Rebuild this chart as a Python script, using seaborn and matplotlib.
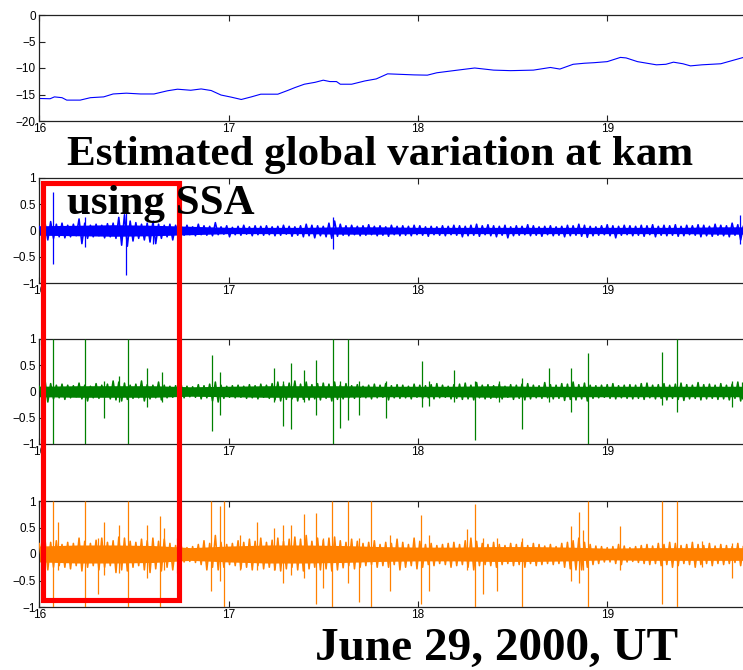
import numpy as np
import pandas as pd
import matplotlib
matplotlib.use("Agg")
import matplotlib.pyplot as plt
from matplotlib.patches import Rectangle
import seaborn as sns

# ---------------- data ----------------
# top panel: estimated global variation (hours UT, value)
top_t = [16.00, 16.057, 16.08, 16.12, 16.145, 16.216, 16.27, 16.34, 16.39, 16.46,
         16.535, 16.606, 16.677, 16.73, 16.80, 16.855, 16.908, 16.96, 17.014, 17.067,
         17.12, 17.17, 17.26, 17.315, 17.35, 17.40, 17.457, 17.50, 17.535, 17.57,
         17.59, 17.65, 17.72, 17.78, 17.84, 17.91, 17.98, 18.05, 18.10, 18.21,
         18.30, 18.40, 18.49, 18.61, 18.70, 18.75, 18.82, 18.88, 18.93, 19.00,
         19.07, 19.10, 19.16, 19.21, 19.26, 19.31, 19.35, 19.40, 19.44, 19.50,
         19.55, 19.60, 19.66, 19.72]
top_v = [-15.75, -15.8, -15.45, -15.6, -16.06, -16.06, -15.6, -15.45, -14.9, -14.75,
         -14.9, -14.9, -14.3, -14.0, -14.2, -13.95, -14.25, -15.1, -15.5, -15.94,
         -15.45, -14.94, -14.94, -14.2, -13.7, -13.06, -12.7, -12.3, -12.56, -12.56,
         -13.06, -13.06, -12.44, -12.06, -11.1, -11.2, -11.3, -11.35, -10.9, -10.4,
         -10.0, -10.4, -10.5, -10.4, -9.9, -10.2, -9.3, -9.1, -9.0, -8.8,
         -8.0, -8.1, -8.8, -9.1, -9.4, -9.3, -8.9, -9.2, -9.6, -9.4,
         -9.3, -9.2, -8.6, -8.0]

# residual panels: noise envelope (hundredths), one value every 0.03 h from 16.00 to 19.72
band_start, band_end = 16.00, 19.72

blue_hi = [8, 15, 17, 12, 14, 10, 12, 22, 14, 10, 12, 10, 13, 14, 25, 30, 18, 15, 12, 14, 16, 12, 10, 12, 10,
           8, 10, 7, 12, 9, 8, 15, 7, 9, 6, 8, 10, 7, 9, 8, 9, 7, 8, 10, 8, 7, 9, 12, 10, 9,
           8, 14, 18, 12, 9, 10, 8, 9, 11, 8, 9, 7, 10, 8, 9, 8, 10, 9, 7, 8, 7, 9, 8, 10, 9,
           8, 10, 12, 9, 11, 9, 8, 10, 7, 9, 8, 11, 9, 7, 8, 9, 7, 8, 10, 9, 12, 10, 8, 7, 9,
           11, 9, 8, 10, 9, 8, 10, 9, 11, 8, 10, 9, 11, 8, 10, 9, 11, 10, 8, 12, 10, 9, 14, 11, 9]
blue_lo = [-10, -18, -15, -12, -14, -12, -10, -25, -15, -12, -10, -14, -12, -15, -28, -30, -20, -15, -18, -22, -25, -15, -12, -18, -10,
           -9, -8, -10, -8, -9, -10, -8, -7, -12, -8, -9, -7, -10, -8, -9, -8, -10, -9, -7, -11, -9, -12, -10, -14, -10,
           -12, -15, -11, -9, -10, -8, -10, -9, -8, -10, -9, -11, -8, -10, -9, -10, -8, -9, -11, -8, -9, -10, -8, -9, -12,
           -10, -9, -11, -8, -10, -12, -9, -14, -10, -9, -8, -10, -9, -11, -8, -10, -9, -12, -10, -9, -11, -13, -10, -9, -8,
           -10, -14, -9, -8, -10, -9, -11, -8, -12, -9, -10, -9, -11, -10, -8, -9, -12, -10, -11, -9, -10, -12, -9, -18, -10]

green_hi = [10, 22, 15, 12, 14, 12, 11, 16, 12, 10, 15, 12, 14, 20, 18, 16, 12, 14, 20, 13, 12, 18, 12, 10, 11,
            12, 10, 9, 13, 11, 14, 18, 12, 10, 11, 12, 10, 13, 11, 14, 12, 15, 18, 13, 16, 20, 14, 18, 13, 15,
            16, 14, 18, 12, 15, 11, 13, 10, 12, 14, 12, 15, 11, 13, 12, 10, 14, 12, 11, 13, 15, 12, 10, 13, 14,
            16, 12, 17, 12, 13, 11, 14, 10, 13, 12, 14, 15, 12, 11, 17, 13, 12, 15, 14, 18, 13, 16, 12, 11, 12,
            13, 15, 11, 12, 13, 12, 15, 16, 12, 13, 15, 12, 14, 16, 13, 12, 17, 13, 14, 12, 15, 12, 14, 18, 12]
green_lo = [-10, -20, -14, -12, -15, -12, -10, -14, -18, -12, -13, -11, -14, -16, -18, -15, -13, -12, -18, -14, -12, -16, -12, -11, -10,
            -12, -10, -11, -14, -12, -18, -20, -13, -11, -12, -11, -13, -12, -14, -11, -13, -16, -18, -15, -14, -18, -15, -16, -14, -16,
            -13, -18, -15, -14, -12, -13, -11, -12, -14, -12, -11, -16, -12, -13, -12, -14, -11, -13, -12, -14, -12, -11, -14, -13, -15,
            -14, -16, -12, -14, -13, -12, -14, -11, -15, -13, -16, -14, -12, -13, -12, -14, -13, -17, -15, -16, -14, -18, -13, -12, -11,
            -13, -14, -12, -13, -14, -13, -15, -12, -14, -13, -16, -13, -15, -17, -14, -13, -16, -14, -13, -15, -14, -16, -13, -18, -14]

orange_hi = [20, 28, 22, 25, 18, 22, 20, 30, 24, 20, 26, 30, 22, 25, 32, 30, 24, 22, 28, 25, 30, 24, 28, 20, 16,
             15, 12, 14, 18, 25, 20, 35, 22, 18, 20, 25, 22, 28, 24, 30, 22, 26, 30, 24, 28, 32, 28, 35, 24, 30,
             26, 30, 32, 25, 22, 28, 24, 20, 22, 25, 18, 22, 20, 28, 22, 18, 30, 24, 18, 20, 16, 18, 20, 22, 18,
             25, 30, 24, 20, 18, 22, 18, 16, 20, 18, 22, 16, 20, 18, 15, 18, 14, 20, 22, 25, 30, 22, 18, 15, 14,
             12, 14, 18, 15, 12, 14, 16, 18, 15, 20, 18, 22, 20, 16, 18, 22, 18, 16, 20, 15, 18, 16, 14, 20, 15]
orange_lo = [-20, -30, -25, -22, -25, -28, -22, -32, -25, -22, -30, -25, -22, -35, -30, -32, -25, -22, -30, -35, -28, -32, -25, -30, -20,
             -15, -14, -16, -20, -30, -25, -30, -25, -20, -22, -28, -25, -30, -22, -28, -25, -30, -32, -28, -25, -30, -32, -28, -25, -30,
             -28, -32, -30, -26, -22, -28, -25, -22, -20, -25, -22, -25, -20, -30, -25, -22, -28, -25, -20, -22, -18, -20, -25, -22, -20,
             -25, -30, -22, -20, -22, -25, -20, -18, -22, -20, -25, -18, -22, -20, -18, -20, -18, -25, -28, -30, -30, -25, -20, -18, -15,
             -15, -18, -20, -15, -14, -16, -18, -20, -18, -22, -20, -25, -22, -18, -20, -25, -20, -18, -22, -18, -20, -18, -16, -22, -18]

# solid core of each noise band (hundredths), one value every 0.2 h from 16.0 to 19.8
core_start, core_end = 16.0, 19.8
blue_core = [9, 10, 11, 10, 8, 6, 6, 6, 7, 7, 6, 6, 6, 6, 6, 6, 6, 6, 7, 7]
green_core = [10, 11, 11, 11, 9, 10, 11, 11, 11, 10, 10, 10, 11, 10, 10, 10, 10, 10, 10, 10]
orange_core = [15, 17, 17, 16, 12, 15, 17, 17, 16, 14, 13, 13, 14, 14, 13, 11, 12, 12, 12, 12]

# isolated spikes: time, top, bottom
blue_spike_t = [16.07, 16.24, 16.46, 16.60, 17.55, 19.70]
blue_spike_hi = [0.73, 0.25, 0.35, 0.2, 0.25, 0.3]
blue_spike_lo = [-0.63, -0.32, -0.85, -0.25, -0.36, -0.25]

green_spike_t = [16.07, 16.24, 16.34, 16.42, 16.47, 16.57, 16.65, 16.91, 16.955, 17.24,
                 17.29, 17.33, 17.40, 17.46, 17.55, 17.59, 17.63, 17.69, 17.83, 18.02,
                 18.06, 18.19, 18.30, 18.43, 18.55, 18.69, 18.81, 18.90, 19.29, 19.37,
                 19.66, 19.71]
green_spike_hi = [1.0, 1.0, 0.2, 0.3, 1.0, 0.45, 0.38, 0.7, 0.38, 0.45,
                  0.2, 0.55, 0.4, 0.6, 1.0, 0.2, 1.0, 0.2, 0.2, 0.58,
                  0.2, 0.4, 0.2, 0.2, 0.25, 0.44, 0.45, 0.74, 0.75, 1.0,
                  0.2, 0.18]
green_spike_lo = [-1.0, -1.0, -0.5, -0.2, -1.0, -0.3, -0.2, -0.75, -0.45, -0.2,
                  -0.65, -0.72, -0.2, -0.45, -1.0, -0.7, -0.55, -0.45, -0.5, -0.3,
                  -0.28, -0.2, -0.92, -0.2, -0.72, -0.2, -0.4, -1.0, -0.25, -0.4,
                  -0.3, -0.15]

orange_spike_t = [16.07, 16.10, 16.24, 16.31, 16.34, 16.42, 16.47, 16.57, 16.64, 16.66,
                  16.725, 16.905, 16.955, 16.975, 17.06, 17.15, 17.24, 17.29, 17.33, 17.40,
                  17.46, 17.50, 17.545, 17.63, 17.69, 17.75, 17.85, 18.015, 18.06, 18.26,
                  18.30, 18.345, 18.42, 18.55, 18.81, 18.85, 18.87, 18.90, 19.07, 19.29,
                  19.37, 19.50, 19.66]
orange_spike_hi = [1.0, 0.6, 1.0, 0.3, 0.6, 0.55, 1.0, 0.55, 0.72, 0.5,
                   0.3, 1.0, 0.9, 1.0, 0.35, 0.6, 0.5, 0.55, 0.55, 0.75,
                   0.78, 0.3, 1.0, 1.0, 0.3, 1.0, 0.35, 0.73, 0.35, 0.48,
                   0.95, 0.3, 0.3, 0.3, 0.52, 0.8, 0.45, 1.0, 0.52, 1.0,
                   1.0, 0.25, 0.2]
orange_spike_lo = [-1.0, -0.3, -1.0, -0.75, -0.4, -0.35, -1.0, -0.45, -1.0, -0.3,
                   -0.35, -0.7, -0.5, -1.0, -0.3, -0.3, -0.3, -0.55, -0.4, -0.45,
                   -0.95, -0.65, -1.0, -0.55, -0.9, -1.0, -0.7, -0.95, -0.7, -0.3,
                   -1.0, -0.75, -0.7, -1.0, -0.5, -0.55, -0.3, -1.0, -0.3, -0.95,
                   -1.0, -0.25, -0.45]

x_ticks = [16, 17, 18, 19]
top_yticks = [-20, -15, -10, -5, 0]
res_yticks = [-1, -0.5, 0, 0.5, 1]
res_yticklabels = ["\u22121", "\u22120.5", "0", "0.5", "1"]

title_line1 = "Estimated global variation at kam"
title_line2 = "using SSA"
date_label = "June 29, 2000, UT"

# ---------------- style ----------------
sns.set_style("ticks")
plt.rcParams["font.family"] = ["Liberation Sans", "DejaVu Sans"]
plt.rcParams["xtick.direction"] = "in"
plt.rcParams["ytick.direction"] = "in"
plt.rcParams["text.color"] = "black"
plt.rcParams["xtick.labelcolor"] = "black"
plt.rcParams["ytick.labelcolor"] = "black"

W, H = 743, 670
fig = plt.figure(figsize=(W / 100, H / 100), dpi=100)

x0 = 39.3 / W
wfrac = 4 * 189.3 / W


def ax_at(top_px, bot_px):
    return fig.add_axes([x0, 1 - bot_px / H, wfrac, (bot_px - top_px) / H])


def style_axis(ax, yticks, ylabels):
    ax.set_xlim(16, 20)
    ax.set_xticks(x_ticks)
    ax.set_xticklabels([str(v) for v in x_ticks])
    ax.set_yticks(yticks)
    ax.set_yticklabels(ylabels)
    ax.tick_params(axis="x", which="both", top=True, bottom=True, length=4,
                   width=0.8, labelsize=8.5, pad=1.5, color="#222222",
                   labelcolor="black")
    ax.tick_params(axis="y", which="both", left=True, right=True, length=4,
                   width=0.8, labelsize=8.5, pad=2.5, color="#222222",
                   labelcolor="black")
    for s in ax.spines.values():
        s.set_visible(True)
        s.set_linewidth(0.9)
        s.set_color("#222222")
    ax.set_xlabel("")
    ax.set_ylabel("")


def zigzag_frame(hi, lo):
    n = len(hi)
    t = np.linspace(band_start, band_end, n)
    half = (t[1] - t[0]) / 2
    tt = np.concatenate([t, t + half])
    vv = np.concatenate([np.asarray(hi) / 100.0, np.asarray(lo) / 100.0])
    return pd.DataFrame({"t": tt, "v": vv}).sort_values("t")


# top panel
ax1 = ax_at(15, 121)
sns.lineplot(x=top_t, y=top_v, ax=ax1, color=(0.0, 0.0, 1.0), linewidth=0.8,
             estimator=None)
ax1.set_ylim(-20, 0)
style_axis(ax1, top_yticks, [str(v).replace("-", "\u2212") for v in top_yticks])

panels = [
    ((178, 283), blue_hi, blue_lo, blue_core, blue_spike_t, blue_spike_hi, blue_spike_lo, (0.0, 0.0, 1.0)),
    ((339, 444), green_hi, green_lo, green_core, green_spike_t, green_spike_hi, green_spike_lo, (0.0, 0.5, 0.0)),
    ((501, 607), orange_hi, orange_lo, orange_core, orange_spike_t, orange_spike_hi, orange_spike_lo, (1.0, 0.5, 0.0)),
]

for (tp, bp), hi, lo, core, st, shi, slo, col in panels:
    ax = ax_at(tp, bp)
    ct = np.linspace(core_start, core_end, len(core))
    cv = np.asarray(core) / 100.0
    ax.fill_between(ct, -cv, cv, color=col, linewidth=0, zorder=2)
    df = zigzag_frame(hi, lo)
    sns.lineplot(data=df, x="t", y="v", ax=ax, color=col, linewidth=1.15,
                 estimator=None, sort=False, zorder=3)
    ax.vlines(st, slo, shi, colors=[col], linewidth=0.9, zorder=3)
    ax.set_ylim(-1, 1)
    style_axis(ax, res_yticks, res_yticklabels)

# red highlight box
rect = Rectangle((43.3 / W, 1 - 600 / H), (179 - 43.3) / W, (600 - 183.3) / H,
                 transform=fig.transFigure, fill=False, edgecolor=(1.0, 0.0, 0.0),
                 linewidth=3.7, zorder=10)
fig.patches.append(rect)

serif = ["Liberation Serif", "DejaVu Serif"]
fig.text(67 / W, 1 - 165 / H, title_line1, family=serif, fontweight="bold",
         fontsize=31, ha="left", va="baseline", color="black", zorder=20)
fig.text(67 / W, 1 - 214 / H, title_line2, family=serif, fontweight="bold",
         fontsize=31, ha="left", va="baseline", color="black", zorder=20)
fig.text(315 / W, 1 - 660 / H, date_label, family=serif, fontweight="bold",
         fontsize=34, ha="left", va="baseline", color="black", zorder=20)

fig.savefig("out.png", dpi=100)
